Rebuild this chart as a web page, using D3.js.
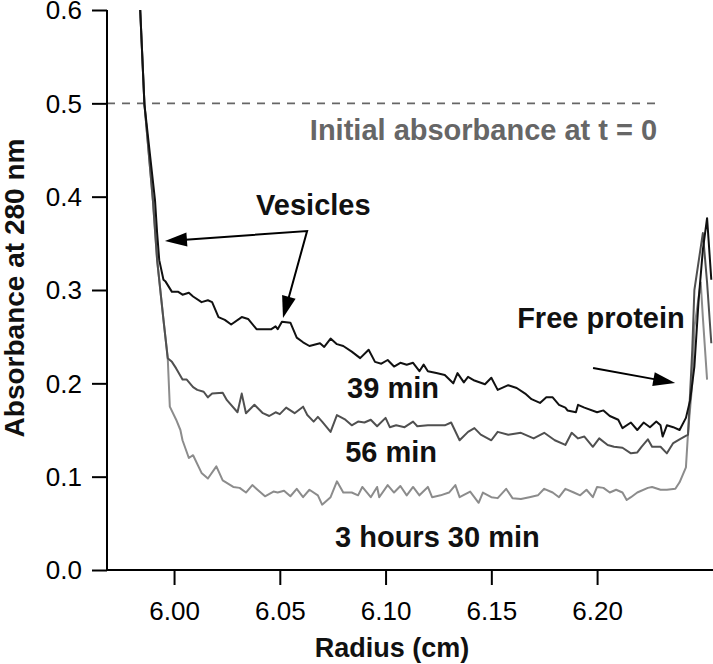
<!DOCTYPE html>
<html>
<head>
<meta charset="utf-8">
<script src="https://cdn.jsdelivr.net/npm/d3@7"></script>
<style>
  html, body { margin: 0; padding: 0; background: #fff; }
  svg { display: block; }
</style>
</head>
<body>
<svg id="chart" width="713" height="664"></svg>
<script>
// ---------- DATA ----------
const yTicks = [0.0, 0.1, 0.2, 0.3, 0.4, 0.5, 0.6];
const xTicks = [6.00, 6.05, 6.10, 6.15, 6.20];
const xTitle = "Radius (cm)";
const yTitle = "Absorbance at 280 nm";
const initialAbsorbance = 0.5;

// 39 min (black)
const radius39 = [5.984,5.986,5.991,5.992,5.993,5.995,5.996,5.999,6.002,6.004,6.007,6.009,6.013,6.016,6.018,6.021,6.024,6.027,6.032,6.035,6.039,6.042,6.046,6.048,6.049,6.051,6.055,6.058,6.061,6.064,6.069,6.071,6.074,6.077,6.080,6.084,6.088,6.092,6.095,6.098,6.101,6.104,6.107,6.110,6.113,6.116,6.118,6.120,6.124,6.128,6.132,6.134,6.137,6.139,6.142,6.147,6.150,6.153,6.158,6.162,6.166,6.169,6.173,6.176,6.179,6.182,6.185,6.186,6.190,6.191,6.194,6.200,6.203,6.206,6.210,6.212,6.216,6.219,6.222,6.225,6.228,6.230,6.231,6.233,6.236,6.239,6.242,6.244,6.246,6.248,6.250,6.252,6.254];
const abs39 =    [0.600,0.499,0.396,0.361,0.332,0.311,0.309,0.298,0.298,0.295,0.297,0.293,0.287,0.289,0.287,0.271,0.268,0.263,0.271,0.269,0.258,0.258,0.258,0.261,0.258,0.266,0.265,0.249,0.244,0.240,0.243,0.239,0.248,0.242,0.240,0.234,0.227,0.236,0.223,0.221,0.225,0.218,0.222,0.220,0.222,0.213,0.220,0.213,0.211,0.209,0.200,0.211,0.201,0.207,0.203,0.199,0.206,0.193,0.198,0.195,0.189,0.183,0.179,0.185,0.185,0.177,0.174,0.171,0.169,0.177,0.174,0.169,0.171,0.165,0.161,0.152,0.158,0.150,0.158,0.153,0.159,0.155,0.143,0.155,0.153,0.150,0.163,0.182,0.218,0.289,0.343,0.377,0.311];

// 56 min (dark grey)
const radius56 = [5.984,5.986,5.990,5.992,5.995,5.997,5.999,6.001,6.004,6.006,6.009,6.011,6.014,6.016,6.018,6.023,6.025,6.030,6.032,6.034,6.038,6.042,6.045,6.048,6.050,6.053,6.057,6.061,6.063,6.066,6.068,6.070,6.074,6.077,6.081,6.084,6.087,6.090,6.093,6.096,6.100,6.102,6.105,6.109,6.113,6.115,6.120,6.123,6.128,6.131,6.135,6.139,6.142,6.145,6.150,6.153,6.158,6.164,6.170,6.175,6.180,6.185,6.188,6.191,6.194,6.198,6.201,6.205,6.208,6.212,6.216,6.219,6.221,6.224,6.226,6.230,6.233,6.236,6.239,6.243,6.245,6.246,6.250,6.252,6.254];
const abs56 =    [0.600,0.499,0.396,0.332,0.268,0.227,0.223,0.216,0.204,0.204,0.196,0.193,0.191,0.185,0.189,0.190,0.182,0.169,0.189,0.168,0.177,0.168,0.165,0.169,0.167,0.174,0.168,0.175,0.166,0.159,0.164,0.159,0.148,0.166,0.161,0.155,0.159,0.158,0.161,0.154,0.163,0.153,0.155,0.153,0.159,0.154,0.155,0.155,0.155,0.158,0.139,0.148,0.152,0.145,0.139,0.148,0.145,0.147,0.141,0.147,0.139,0.134,0.147,0.141,0.143,0.132,0.141,0.134,0.132,0.131,0.125,0.126,0.132,0.140,0.132,0.132,0.125,0.136,0.140,0.145,0.236,0.300,0.361,0.308,0.243];

// 3 hours 30 min (light grey)
const radius330 = [5.984,5.986,5.990,5.992,5.995,5.997,5.998,6.001,6.003,6.004,6.007,6.009,6.013,6.016,6.020,6.023,6.028,6.031,6.034,6.037,6.040,6.043,6.047,6.049,6.052,6.055,6.058,6.061,6.064,6.068,6.070,6.074,6.077,6.080,6.084,6.087,6.089,6.093,6.096,6.097,6.101,6.104,6.107,6.110,6.113,6.116,6.120,6.122,6.126,6.130,6.133,6.135,6.140,6.144,6.146,6.150,6.153,6.157,6.160,6.164,6.168,6.172,6.175,6.179,6.182,6.185,6.189,6.192,6.195,6.198,6.200,6.203,6.206,6.209,6.212,6.214,6.216,6.219,6.224,6.226,6.230,6.233,6.237,6.239,6.242,6.243,6.245,6.246,6.249,6.250,6.252];
const abs330 =    [0.600,0.499,0.396,0.332,0.268,0.228,0.175,0.161,0.150,0.139,0.120,0.123,0.104,0.098,0.111,0.096,0.089,0.088,0.083,0.091,0.085,0.079,0.084,0.083,0.085,0.079,0.087,0.078,0.086,0.080,0.070,0.078,0.095,0.083,0.083,0.080,0.089,0.078,0.089,0.078,0.091,0.083,0.090,0.080,0.089,0.080,0.089,0.078,0.080,0.083,0.091,0.078,0.084,0.072,0.083,0.078,0.077,0.087,0.077,0.076,0.078,0.080,0.087,0.083,0.078,0.087,0.083,0.080,0.086,0.078,0.089,0.088,0.083,0.086,0.083,0.075,0.078,0.083,0.088,0.089,0.086,0.086,0.087,0.094,0.110,0.147,0.200,0.260,0.308,0.271,0.204];

// ---------- LAYOUT ----------
const W = 713, H = 664;
const svg = d3.select("#chart");
const x = d3.scaleLinear().domain([5.9683, 6.2548]).range([107, 713]);
const y = d3.scaleLinear().domain([0, 0.6]).range([570, 10]);
const font = "'Liberation Sans', Arial, sans-serif";

const series = [
  { name: "3 hours 30 min", r: radius330, a: abs330, color: "#8c8c8c" },
  { name: "56 min", r: radius56, a: abs56, color: "#505050" },
  { name: "39 min", r: radius39, a: abs39, color: "#111111" }
];

// dashed initial absorbance line
svg.append("line")
  .attr("x1", x(5.9683)).attr("x2", x(6.2274))
  .attr("y1", y(initialAbsorbance)).attr("y2", y(initialAbsorbance))
  .attr("stroke", "#666").attr("stroke-width", 1.6)
  .attr("stroke-dasharray", "8,7");

// lines
const line = d3.line().x(d => x(d[0])).y(d => y(d[1]));
series.forEach(s => {
  svg.append("path")
    .datum(s.r.map((r, i) => [r, s.a[i]]))
    .attr("d", line)
    .attr("fill", "none")
    .attr("stroke", s.color)
    .attr("stroke-width", 2)
    .attr("stroke-linejoin", "round");
});

// axes
const yAxis = svg.append("g").attr("transform", "translate(107,0)")
  .call(d3.axisLeft(y).tickValues(yTicks).tickFormat(d3.format(".1f")).tickSize(15).tickPadding(10));
const xAxis = svg.append("g").attr("transform", "translate(0,570)")
  .call(d3.axisBottom(x).tickValues(xTicks).tickFormat(d3.format(".2f")).tickSize(15).tickPadding(17));
[yAxis, xAxis].forEach(g => {
  g.select(".domain").attr("stroke", "#000").attr("stroke-width", 2);
  g.selectAll(".tick line").attr("stroke", "#000").attr("stroke-width", 2);
  g.selectAll(".tick text").attr("fill", "#000")
    .style("font-family", font)
    .style("font-size", "26px");
});
yAxis.selectAll(".tick text").attr("dy", "0.34em");
yAxis.select(".domain").attr("d", `M0,${y(0.6)}V${y(0)}`);
xAxis.select(".domain").attr("d", `M${x(5.9683)},0H${W}`);

// axis titles
svg.append("text")
  .attr("x", 392).attr("y", 657)
  .attr("text-anchor", "middle")
  .style("font-family", font)
  .style("font-weight", "bold").style("font-size", "27px")
  .attr("fill", "#111")
  .text(xTitle);
svg.append("text")
  .attr("transform", "translate(24,288) rotate(-90)")
  .attr("text-anchor", "middle")
  .style("font-family", font)
  .style("font-weight", "bold").style("font-size", "28px")
  .attr("fill", "#111")
  .text(yTitle);

// annotations
function label(txt, xv, yv, color, anchor) {
  svg.append("text")
    .attr("x", x(xv)).attr("y", y(yv))
    .attr("text-anchor", anchor || "start")
    .style("font-family", font).style("font-weight", "bold").style("font-size", "29px")
    .attr("fill", color)
    .text(txt);
}
label("Initial absorbance at t = 0", 6.2284, 0.4607, "#666", "end");
label("Vesicles", 6.0388, 0.3804, "#111");
label("39 min", 6.0818, 0.1843, "#111");
label("56 min", 6.0809, 0.1157, "#111");
label("3 hours 30 min", 6.0761, 0.0246, "#111");
label("Free protein", 6.1622, 0.2593, "#111");

// arrows
function arrowHead(x1, y1, x2, y2) {
  const L = 22, Wd = 7;
  const dx = x2 - x1, dy = y2 - y1, len = Math.hypot(dx, dy);
  const ux = dx / len, uy = dy / len;
  const bx = x2 - ux * L, by = y2 - uy * L;
  const px = -uy * Wd, py = ux * Wd;
  svg.append("path")
    .attr("d", `M${x2},${y2}L${bx + px},${by + py}L${bx - px},${by - py}Z`)
    .attr("fill", "#000");
}
function arrowPath(pts) {
  const P = pts.map(p => [x(p[0]), y(p[1])]);
  svg.append("path")
    .attr("d", d3.line()(P))
    .attr("fill", "none").attr("stroke", "#000").attr("stroke-width", 2);
}
// Vesicles: tip on left curve <- corner -> tip on plateau
const vesTip1 = [5.9957, 0.3525], vesCorner = [6.0629, 0.3632], vesTip2 = [6.0515, 0.2700];
arrowPath([[vesTip1[0] + 0.008, vesTip1[1] + 0.0012], vesCorner, [vesTip2[0] + 0.0025, vesTip2[1] + 0.02]]);
arrowHead(x(vesCorner[0]), y(vesCorner[1]), x(vesTip1[0]), y(vesTip1[1]));
arrowHead(x(vesCorner[0]), y(vesCorner[1]), x(vesTip2[0]), y(vesTip2[1]));
// Free protein
const fpStart = [6.1981, 0.2164], fpTip = [6.2369, 0.2004];
arrowPath([fpStart, [fpTip[0] - 0.008, fpTip[1] + 0.0033]]);
arrowHead(x(fpStart[0]), y(fpStart[1]), x(fpTip[0]), y(fpTip[1]));
</script>
</body>
</html>
